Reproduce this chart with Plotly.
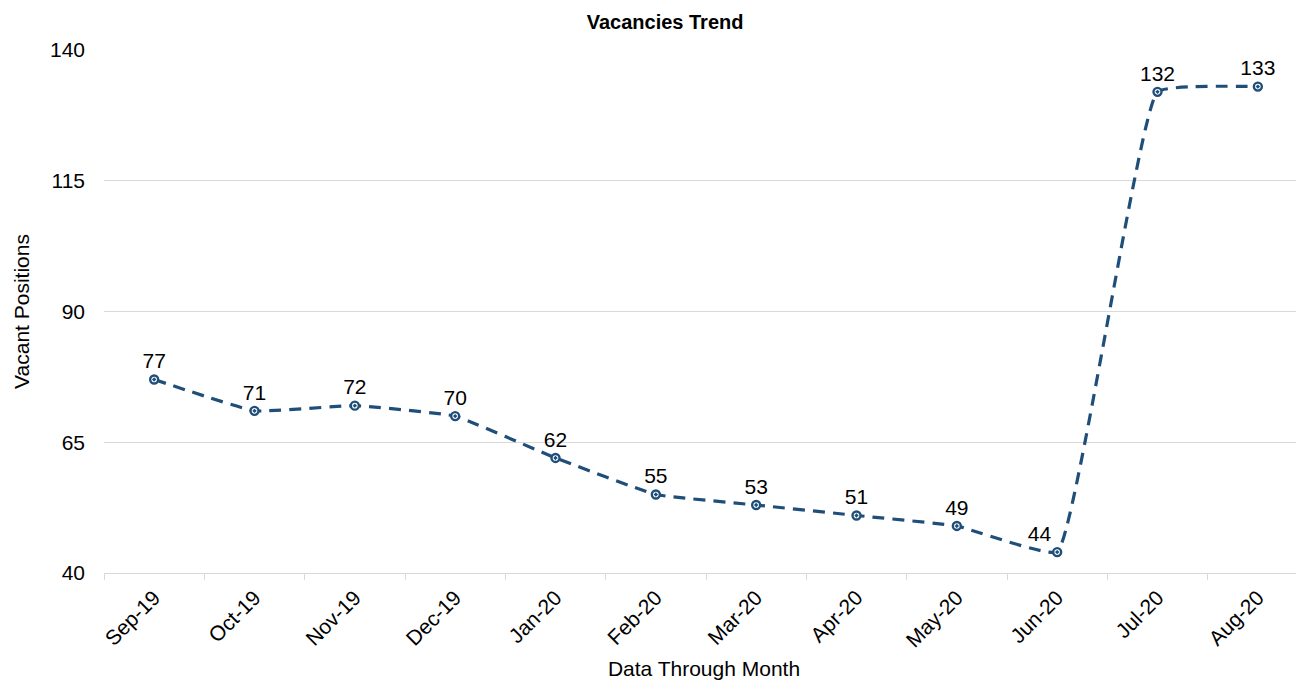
import plotly.graph_objects as go

months = ["Sep-19", "Oct-19", "Nov-19", "Dec-19", "Jan-20", "Feb-20",
          "Mar-20", "Apr-20", "May-20", "Jun-20", "Jul-20", "Aug-20"]
vacancies = [77, 71, 72, 70, 62, 55, 53, 51, 49, 44, 132, 133]
label_pos = ["top center"] * 9 + ["top left"] + ["top center"] * 2
y_ticks = [40, 65, 90, 115, 140]

LINE = "#1f4e79"
FONT = "Liberation Sans, Arial, sans-serif"

fig = go.Figure()
fig.add_trace(go.Scatter(
    x=months, y=vacancies,
    mode="lines+markers+text",
    line=dict(color=LINE, width=3.2, dash="12px,8px", shape="spline", smoothing=0.3),
    marker=dict(symbol="circle-dot", size=8, color="white",
                line=dict(color=LINE, width=2.4)),
    text=[str(v) for v in vacancies],
    textposition=label_pos,
    textfont=dict(family=FONT, size=21, color="#000000"),
    cliponaxis=False,
    showlegend=False,
))

fig.update_layout(
    width=1296, height=675,
    margin=dict(l=96, r=0, t=42, b=110, autoexpand=False),
    paper_bgcolor="white", plot_bgcolor="white",
    font=dict(family=FONT, color="#000000"),
    title=dict(text="<b>Vacancies Trend</b>", x=0.507, xanchor="center",
               y=0.980, yanchor="middle",
               font=dict(family=FONT, size=20, color="#000000")),
)
fig.update_xaxes(
    type="category", range=[-0.5, 11.46],
    tickangle=-45, tickfont=dict(family=FONT, size=21),
    ticks="outside", ticklen=6, tickcolor="#d9d9d9", tickson="boundaries",
    showgrid=False, showline=True, linecolor="#d9d9d9", linewidth=1,
    zeroline=False, automargin=False, ticklabelstandoff=3,
    title=dict(text="Data Through Month", font=dict(family=FONT, size=21),
               standoff=10),
)
fig.update_yaxes(
    range=[40, 140], tickmode="array", tickvals=y_ticks,
    tickfont=dict(family=FONT, size=21),
    showgrid=True, gridcolor="#d9d9d9", gridwidth=1,
    showline=False, zeroline=False, ticks="", ticklabelstandoff=18,
    automargin=False,
    title=dict(text="Vacant Positions", font=dict(family=FONT, size=21),
               standoff=14),
)

fig.write_html("out.html")
